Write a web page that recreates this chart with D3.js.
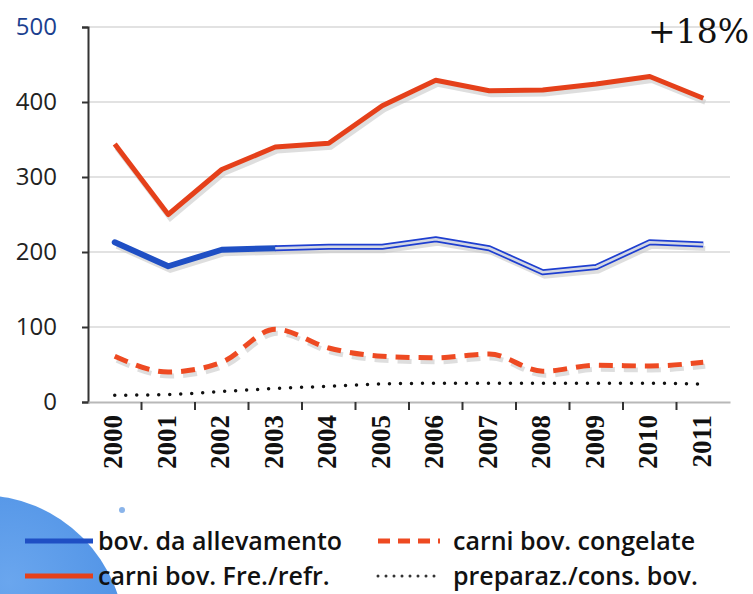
<!DOCTYPE html>
<html>
<head>
<meta charset="utf-8">
<script src="https://cdn.jsdelivr.net/npm/d3@7"></script>
<style>
  body { margin: 0; background: #fff; }
  svg { display: block; }
</style>
</head>
<body>
<svg id="chart" width="753" height="594"></svg>
<script>
// values
var years = ["2000","2001","2002","2003","2004","2005","2006","2007","2008","2009","2010","2011"];
var allevamento = [213, 181, 203, 205, 207, 207, 217, 205, 173, 180, 213, 210];
var freRefr = [344, 250, 310, 340, 345, 395, 429, 415, 416, 424, 434, 405];
var congelate = [61, 40, 53, 97, 72, 61, 59, 64, 41, 49, 48, 53];
var preparaz = [9, 10, 14, 18, 21, 24, 25, 25, 25, 25, 25, 24];
var yTicks = [0, 100, 200, 300, 400, 500];
var legendLabels = ["bov. da allevamento", "carni bov. congelate", "carni bov. Fre./refr.", "preparaz./cons. bov."];
var note = "+18%";

var margin = {top: 27, left: 88, right: 23, bottom: 192};
var width = 753 - margin.left - margin.right,
    height = 594 - margin.top - margin.bottom;

var svg = d3.select("#chart");

// decorative blue blob bottom-left
var defs = svg.append("defs");
var grad = defs.append("radialGradient").attr("id", "blob").attr("cx", "60%").attr("cy", "30%").attr("r", "70%");
grad.append("stop").attr("offset", "0%").attr("stop-color", "#6aa6ee");
grad.append("stop").attr("offset", "100%").attr("stop-color", "#3f86e0");
svg.append("circle").attr("cx", -20).attr("cy", 640).attr("r", 145).attr("fill", "url(#blob)");
svg.append("circle").attr("cx", 122).attr("cy", 510).attr("r", 3).attr("fill", "#8ab4ea");

var g = svg.append("g").attr("transform", "translate(" + margin.left + "," + margin.top + ")");

var x = d3.scaleBand().domain(years).range([0, width]);
var y = d3.scaleLinear().domain([0, 500]).range([height, 0]);

// gridlines
g.selectAll(".grid").data(yTicks.slice(1)).enter().append("line")
  .attr("x1", 0).attr("x2", width)
  .attr("y1", function(d) { return y(d); }).attr("y2", function(d) { return y(d); })
  .attr("stroke", "#e2e2e2").attr("stroke-width", 2);

// y axis
var yAxis = g.append("g").call(d3.axisLeft(y).tickValues(yTicks).tickSize(6).tickPadding(25));
yAxis.select(".domain").attr("stroke", "#333").attr("stroke-width", 2);
yAxis.selectAll(".tick line").attr("stroke", "#333").attr("stroke-width", 2);
yAxis.selectAll("text").attr("font-family", "Open Sans").attr("font-size", 24).attr("fill", "#222");
yAxis.select(".tick:last-of-type text").attr("fill", "#1b3f8f");

// x axis
var xAxis = g.append("g").attr("transform", "translate(0," + height + ")")
  .call(d3.axisBottom(x).tickSize(0).tickPadding(0));
xAxis.select(".domain").attr("stroke", "#b8b8b8").attr("stroke-width", 2);
xAxis.selectAll("text")
  .attr("transform", "rotate(-90)")
  .attr("text-anchor", "end")
  .attr("dy", "0.35em")
  .attr("x", -13).attr("y", -2)
  .attr("font-family", "Liberation Serif").attr("font-weight", "bold")
  .attr("font-size", 27).attr("fill", "#111");
// ticks on band boundaries
g.selectAll(".xtick").data(years.slice(1)).enter().append("line")
  .attr("x1", function(d) { return x(d); }).attr("x2", function(d) { return x(d); })
  .attr("y1", height).attr("y2", height + 8)
  .attr("stroke", "#333").attr("stroke-width", 2);

function cx(i) { return x(years[i]) + x.bandwidth() / 2; }

var linear = d3.line().x(function(d, i) { return cx(i); }).y(function(d) { return y(d); });
var smooth = d3.line().curve(d3.curveMonotoneX).x(function(d, i) { return cx(i); }).y(function(d) { return y(d); });

// soft shadows
[[freRefr, linear], [allevamento, linear], [congelate, smooth]].forEach(function(s) {
  g.append("path").attr("d", s[1](s[0]))
    .attr("transform", "translate(2,4)")
    .attr("fill", "none").attr("stroke", "#c8c8c8").attr("stroke-width", 5)
    .attr("stroke-opacity", 0.6)
    .attr("stroke-dasharray", s[0] === congelate ? "14,9" : null);
});

// preparaz./cons. bov. (dotted)
g.append("path").attr("d", smooth(preparaz))
  .attr("fill", "none").attr("stroke", "#111").attr("stroke-width", 3.5)
  .attr("stroke-linecap", "round").attr("stroke-dasharray", "0,11");

// carni bov. congelate (dashed)
g.append("path").attr("d", smooth(congelate))
  .attr("fill", "none").attr("stroke", "#ee4a22").attr("stroke-width", 5)
  .attr("stroke-dasharray", "14,9");

// carni bov. Fre./refr.
g.append("path").attr("d", linear(freRefr))
  .attr("fill", "none").attr("stroke", "#e5401a").attr("stroke-width", 5)
  .attr("stroke-linejoin", "round");

// bov. da allevamento: solid to 2003, outlined afterwards
g.append("path").attr("d", linear(allevamento.slice(0, 4)))
  .attr("fill", "none").attr("stroke", "#1f4fc4").attr("stroke-width", 6)
  .attr("stroke-linejoin", "round").attr("stroke-linecap", "round");
var tail = d3.line().x(function(d, i) { return cx(i + 3); }).y(function(d) { return y(d); });
g.append("path").attr("d", tail(allevamento.slice(3)))
  .attr("fill", "none").attr("stroke", "#1f3fd0").attr("stroke-width", 6)
  .attr("stroke-linejoin", "round");
g.append("path").attr("d", tail(allevamento.slice(3)))
  .attr("fill", "none").attr("stroke", "#d4d8e4").attr("stroke-width", 2.5)
  .attr("stroke-linejoin", "round");

// note
svg.append("text").attr("x", 749).attr("y", 43).attr("text-anchor", "end")
  .attr("font-family", "DejaVu Serif").attr("font-size", 33).attr("fill", "#111")
  .text(note);

// legend
var legendItems = [
  {label: legendLabels[0], color: "#1f4fc4", dash: null, w: 5, x: 25, y: 541},
  {label: legendLabels[1], color: "#ee4a22", dash: "12,8", w: 5, x: 378, y: 541},
  {label: legendLabels[2], color: "#e5401a", dash: null, w: 5, x: 25, y: 576},
  {label: legendLabels[3], color: "#333", dash: "0,8", w: 3, x: 378, y: 576}
];
var leg = svg.append("g");
legendItems.forEach(function(d) {
  var left = d.x < 100;
  var lx2 = left ? 93 : 440;
  leg.append("line").attr("x1", d.x).attr("x2", lx2).attr("y1", d.y).attr("y2", d.y)
    .attr("stroke", d.color).attr("stroke-width", d.w)
    .attr("stroke-linecap", d.dash === "0,8" ? "round" : "butt")
    .attr("stroke-dasharray", d.dash);
  leg.append("text").attr("x", left ? 98 : 453).attr("y", d.y).attr("dy", "0.35em")
    .attr("font-family", "Open Sans").attr("font-weight", 600).attr("font-size", 25)
    .attr("fill", "#111").text(d.label);
});
</script>
</body>
</html>
